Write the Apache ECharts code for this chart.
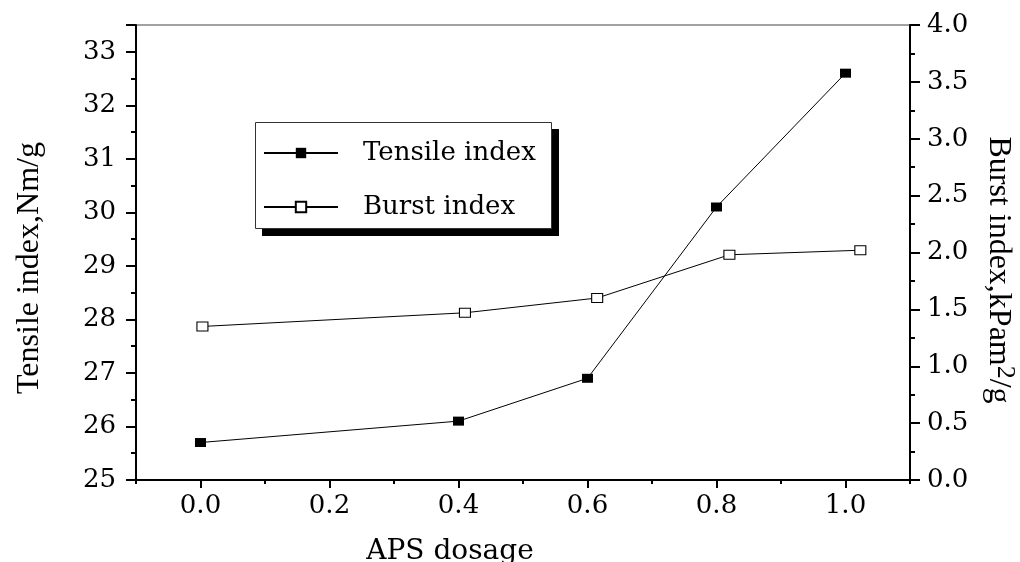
<!DOCTYPE html>
<html>
<head>
<meta charset="utf-8">
<script src="https://cdn.jsdelivr.net/npm/echarts@6.0.0/dist/echarts.min.js"></script>
<style>
  html, body { margin: 0; padding: 0; background: #fff; }
  #chart { width: 1020px; height: 562px; }
</style>
</head>
<body>
<div id="chart"></div>
<script>
// APS dosage values for each series (burst points sit slightly right of the grid values)
const tensileX = [0.0, 0.4, 0.6, 0.8, 1.0]
const tensileIndex = [25.7, 26.1, 26.9, 30.1, 32.6]
const burstX = [0.003, 0.41, 0.615, 0.82, 1.023]
const burstIndex = [1.35, 1.47, 1.60, 1.98, 2.02]

// tick labels
const xLabels = [0.0, 0.2, 0.4, 0.6, 0.8, 1.0]
const xMinorTicks = [-0.1, 0.1, 0.3, 0.5, 0.7, 0.9, 1.1]
const leftLabels = [25, 26, 27, 28, 29, 30, 31, 32, 33]

const serif = 'Liberation Serif'
const wide = 'DejaVu Serif'

const chart = echarts.init(document.getElementById('chart'), null, { renderer: 'canvas' })

const zip = (xs, ys) => xs.map((x, i) => [x, ys[i]])

chart.setOption({
  animation: false,
  backgroundColor: '#fff',
  grid: {
    left: 136, right: 110, top: 25, bottom: 82,
    outerBoundsMode: 'none', containLabel: false,
    show: true, borderColor: '#444', borderWidth: 1
  },
  // legend frame with its hard black shadow
  graphic: [
    { type: 'rect', left: 262, top: 129, shape: { width: 297, height: 107 }, style: { fill: '#000' }, z: 1 },
    { type: 'rect', left: 255, top: 122, shape: { width: 296, height: 106 }, style: { fill: '#fff', stroke: '#333', lineWidth: 1 }, z: 2 }
  ],
  legend: {
    left: 255, top: 122,
    orient: 'vertical',
    padding: [18, 9, 8, 8],
    itemGap: 28,
    itemWidth: 74, itemHeight: 13,
    textStyle: { fontFamily: wide, fontSize: 26, color: '#000', padding: [0, 0, 0, 20] },
    data: ['Tensile index', 'Burst index'],
    z: 10
  },
  xAxis: [
    {
      type: 'value', min: -0.1, max: 1.1,
      name: 'APS dosage', nameLocation: 'middle', nameGap: 58, nameMoveOverlap: false,
      nameTextStyle: { fontFamily: wide, fontSize: 28, color: '#000', padding: [0, 146, 0, 0] },
      axisLine: { show: true, onZero: false, lineStyle: { color: '#000', width: 2 } },
      axisTick: { show: true, length: 8, customValues: xLabels, lineStyle: { color: '#000', width: 2 } },
      axisLabel: {
        customValues: xLabels, margin: 13,
        fontFamily: wide, fontSize: 26, color: '#000',
        formatter: v => v.toFixed(1)
      },
      splitLine: { show: false }
    },
    {
      type: 'value', min: -0.1, max: 1.1, position: 'bottom',
      axisLine: { show: false, onZero: false },
      axisTick: { show: true, length: 4, customValues: xMinorTicks, lineStyle: { color: '#000', width: 2 } },
      axisLabel: { show: false },
      splitLine: { show: false }
    }
  ],
  yAxis: [
    {
      type: 'value', min: 25, max: 33.5, interval: 1, position: 'left',
      name: 'Tensile index,Nm/g', nameLocation: 'middle', nameGap: 90, nameRotate: 90, nameMoveOverlap: false,
      nameTextStyle: { fontFamily: serif, fontSize: 32, color: '#000', padding: [0, 31, 0, 0] },
      axisLine: { show: true, onZero: false, lineStyle: { color: '#000', width: 2 } },
      axisTick: { show: true, length: 10, lineStyle: { color: '#000', width: 2 } },
      minorTick: { show: true, splitNumber: 2, length: 5, lineStyle: { color: '#000', width: 2 } },
      axisLabel: { customValues: leftLabels, margin: 20, fontFamily: wide, fontSize: 26, color: '#000' },
      splitLine: { show: false }
    },
    {
      type: 'value', min: 0, max: 4, interval: 0.5, position: 'right',
      name: 'Burst index,kPam{sup|2}/g', nameLocation: 'middle', nameGap: 68, nameRotate: -90, nameMoveOverlap: false,
      nameTextStyle: {
        fontFamily: serif, fontSize: 32, color: '#000', padding: [0, 0, 0, 35],
        rich: { sup: { fontFamily: serif, fontSize: 26, color: '#000', verticalAlign: 'top', padding: [0, 0, 14, 0] } }
      },
      axisLine: { show: true, onZero: false, lineStyle: { color: '#000', width: 2 } },
      axisTick: { show: true, length: 10, lineStyle: { color: '#000', width: 2 } },
      minorTick: { show: true, splitNumber: 2, length: 5, lineStyle: { color: '#000', width: 2 } },
      axisLabel: { margin: 17, fontFamily: wide, fontSize: 26, color: '#000', formatter: v => v.toFixed(1) },
      splitLine: { show: false }
    }
  ],
  series: [
    {
      name: 'Tensile index', type: 'line', xAxisIndex: 0, yAxisIndex: 0,
      data: zip(tensileX, tensileIndex),
      symbol: 'rect', symbolSize: [11, 9],
      lineStyle: { color: '#000', width: 1 },
      itemStyle: { color: '#000', borderColor: '#000', borderWidth: 0 }
    },
    {
      name: 'Burst index', type: 'line', xAxisIndex: 0, yAxisIndex: 1,
      data: zip(burstX, burstIndex),
      symbol: 'rect', symbolSize: [11, 9],
      lineStyle: { color: '#000', width: 1 },
      itemStyle: { color: '#fff', borderColor: '#000', borderWidth: 1 }
    }
  ]
})
</script>
</body>
</html>
